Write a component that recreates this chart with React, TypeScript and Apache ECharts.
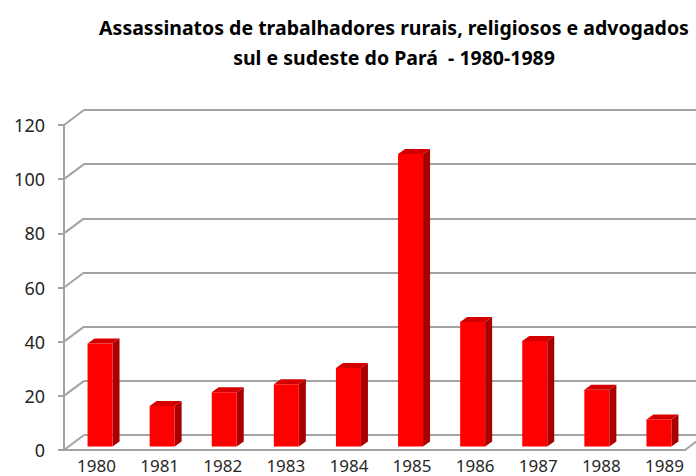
import React, { useEffect, useRef } from "react";
import * as echarts from "echarts";

const years = ["1980", "1981", "1982", "1983", "1984", "1985", "1986", "1987", "1988", "1989"];
const values = [38, 15, 20, 23, 29, 108, 46, 39, 21, 10];
const yTicks = [0, 20, 40, 60, 80, 100, 120];
const titleLines = [
  "Assassinatos de trabalhadores rurais, religiosos e advogados",
  "sul e sudeste do Pará  - 1980-1989",
];

const GRID = "#a3a3a3";
const TXT = "#262626";
const FONT = "'Noto Sans', sans-serif";
const DX = 20;
const DY = -15;

export default function App() {
  const ref = useRef<HTMLDivElement>(null);
  useEffect(() => {
    if (!ref.current) return;
    const chart = echarts.init(ref.current, null, { renderer: "svg" });
    const option: any = {
      animation: false,
      backgroundColor: "#ffffff",
      textStyle: { fontFamily: FONT },
      title: {
        text: titleLines.join("\n"),
        left: 389,
        top: 7,
        textAlign: "center",
        textStyle: {
          fontFamily: FONT,
          fontSize: 19.5,
          fontWeight: "bold",
          color: "#000",
          lineHeight: 30,
        },
      },
      grid: [
        { left: 64, right: 11, top: 125, bottom: 26 },
        { left: 64 + DX, right: 11 - DX, top: 125 + DY, bottom: 26 - DY },
        { left: 65, right: -3, top: 125, bottom: 26 },
      ],
      xAxis: [
        {
          type: "category",
          gridIndex: 0,
          data: years,
          axisLine: { show: true, lineStyle: { color: GRID, width: 2 } },
          axisTick: { show: false },
          axisLabel: { show: false },
        },
        { type: "category", gridIndex: 1, data: years, show: false },
        {
          type: "category",
          gridIndex: 2,
          data: years,
          axisLine: { show: false },
          axisTick: { show: false },
          axisLabel: { fontSize: 17, margin: 7, color: TXT, fontFamily: FONT },
        },
      ],
      yAxis: [
        {
          type: "value",
          gridIndex: 0,
          min: 0,
          max: 120,
          interval: 20,
          axisLine: { show: true, lineStyle: { color: GRID, width: 2 } },
          axisTick: { show: true, length: 6, lineStyle: { color: GRID, width: 2 } },
          axisLabel: { fontSize: 18, margin: 19, color: TXT, fontFamily: FONT },
          splitLine: { show: false },
        },
        {
          type: "value",
          gridIndex: 1,
          min: 0,
          max: 120,
          interval: 20,
          axisLine: { show: false },
          axisTick: { show: false },
          axisLabel: { show: false },
          splitLine: { show: true, lineStyle: { color: GRID, width: 2 } },
        },
        { type: "value", gridIndex: 2, min: 0, max: 120, interval: 20, show: false },
      ],
      series: [
        {
          type: "custom",
          name: "frame",
          xAxisIndex: 0,
          yAxisIndex: 0,
          silent: true,
          z: 1,
          data: yTicks.map((v) => [0, v]),
          renderItem: (params: any, api: any) => {
            const p = api.coord([0, api.value(1)]);
            const x = params.coordSys.x;
            return {
              type: "line",
              shape: { x1: x, y1: p[1], x2: x + DX, y2: p[1] + DY },
              style: { stroke: GRID, lineWidth: 2 },
            };
          },
        },
        {
          type: "custom",
          name: "floor",
          xAxisIndex: 0,
          yAxisIndex: 0,
          silent: true,
          z: 1,
          data: [[0, 0]],
          renderItem: (params: any, api: any) => {
            const p = api.coord([0, 0]);
            const x = params.coordSys.x + params.coordSys.width;
            return {
              type: "line",
              shape: { x1: x, y1: p[1], x2: x + DX, y2: p[1] + DY },
              style: { stroke: GRID, lineWidth: 2 },
            };
          },
        },
        {
          type: "custom",
          name: "Assassinatos",
          xAxisIndex: 0,
          yAxisIndex: 0,
          z: 3,
          data: values.map((v, i) => [i, v]),
          renderItem: (params: any, api: any) => {
            const top = api.coord([api.value(0), api.value(1)]);
            const base = api.coord([api.value(0), 0]);
            const w = 25;
            const dx = 7;
            const dy = -5;
            const cx = top[0] + 5;
            const x0 = cx - w / 2;
            const x1 = cx + w / 2;
            const yT = top[1] - 3.5;
            const yB = base[1] - 3.5;
            return {
              type: "group",
              children: [
                {
                  type: "polygon",
                  shape: { points: [[x1, yT], [x1 + dx, yT + dy], [x1 + dx, yB + dy], [x1, yB]] },
                  style: { fill: "#a80000" },
                },
                {
                  type: "polygon",
                  shape: { points: [[x0, yT], [x0 + dx, yT + dy], [x1 + dx, yT + dy], [x1, yT]] },
                  style: { fill: "#d40000" },
                },
                {
                  type: "rect",
                  shape: { x: x0, y: yT, width: w, height: yB - yT },
                  style: { fill: "#ff0000" },
                },
              ],
            };
          },
        },
      ],
    };
    chart.setOption(option);
    return () => chart.dispose();
  }, []);
  return <div ref={ref} style={{ width: 696, height: 476, position: "absolute", left: 0, top: 0 }} />;
}
